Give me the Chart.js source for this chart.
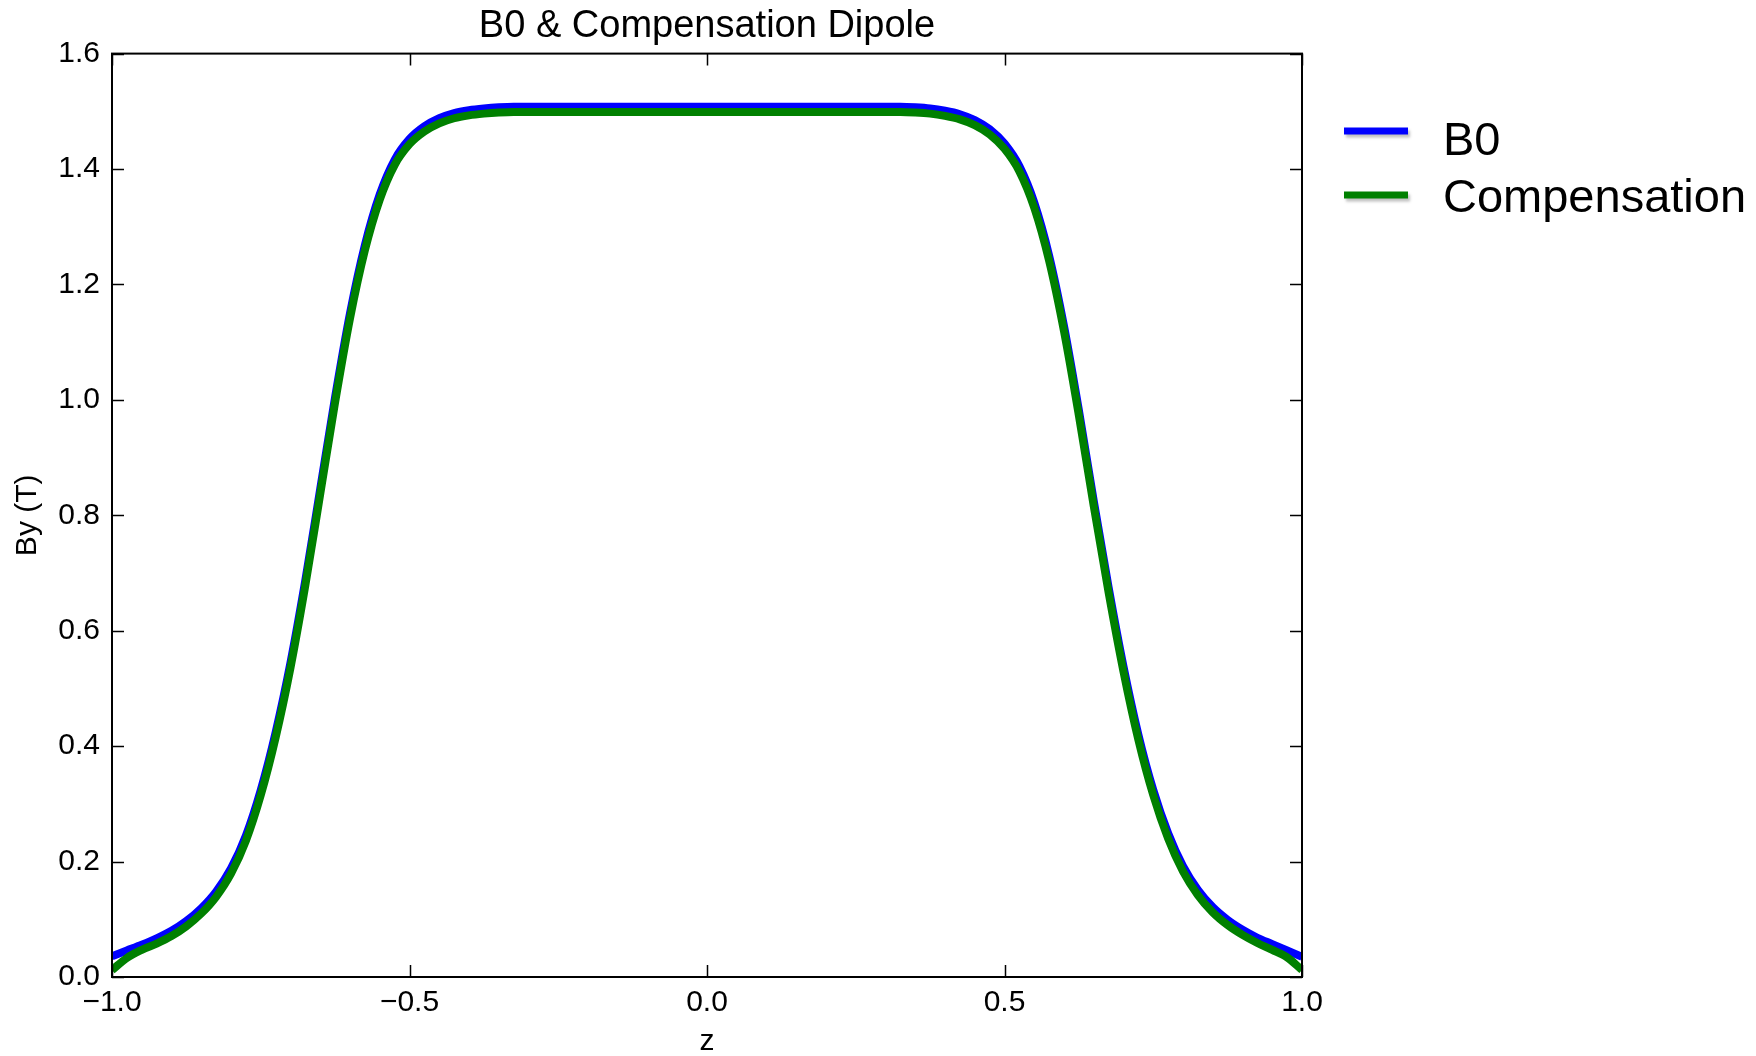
<!DOCTYPE html>
<html>
<head>
<meta charset="utf-8">
<title>B0 &amp; Compensation Dipole</title>
<script src="https://cdn.jsdelivr.net/npm/chart.js@4.4.1/dist/chart.umd.min.js"></script>
<style>
  html, body { margin: 0; padding: 0; background: #fff; }
  #wrap { width: 1756px; height: 1056px; }
</style>
</head>
<body>
<div id="wrap"><canvas id="fieldChart" width="1756" height="1056"></canvas></div>
<script>
// longitudinal position z
const zValues = [
  -1.000, -0.975, -0.950, -0.925, -0.900, -0.875, -0.850, -0.825, -0.800, -0.775,
  -0.750, -0.725, -0.700, -0.675, -0.650, -0.625, -0.600, -0.575, -0.550, -0.525,
  -0.500, -0.475, -0.450, -0.425, -0.400, -0.375, -0.350, -0.325, -0.300, -0.275,
  -0.250, -0.225, -0.200, -0.175, -0.150, -0.125, -0.100, -0.075, -0.050, -0.025,
   0.000,  0.025,  0.050,  0.075,  0.100,  0.125,  0.150,  0.175,  0.200,  0.225,
   0.250,  0.275,  0.300,  0.325,  0.350,  0.375,  0.400,  0.425,  0.450,  0.475,
   0.500,  0.525,  0.550,  0.575,  0.600,  0.625,  0.650,  0.675,  0.700,  0.725,
   0.750,  0.775,  0.800,  0.825,  0.850,  0.875,  0.900,  0.925,  0.950,  0.975,
   1.000
];

// By (T) of the main dipole
const b0Values = [
  0.036, 0.046, 0.056, 0.067, 0.080, 0.097, 0.119, 0.148, 0.188, 0.245,
  0.324, 0.424, 0.545, 0.688, 0.846, 1.005, 1.150, 1.268, 1.356, 1.416,
  1.452, 1.474, 1.488, 1.497, 1.502, 1.505, 1.507, 1.508, 1.508, 1.508,
  1.508, 1.508, 1.508, 1.508, 1.508, 1.508, 1.508, 1.508, 1.508, 1.508,
  1.508, 1.508, 1.508, 1.508, 1.508, 1.508, 1.508, 1.508, 1.508, 1.508,
  1.508, 1.508, 1.508, 1.508, 1.507, 1.505, 1.501, 1.495, 1.485, 1.469,
  1.444, 1.405, 1.342, 1.250, 1.128, 0.982, 0.825, 0.675, 0.538, 0.420,
  0.324, 0.249, 0.192, 0.151, 0.121, 0.099, 0.082, 0.068, 0.057, 0.046,
  0.035
];

// By (T) of the compensation dipole
const compValues = [
  0.012, 0.033, 0.047, 0.058, 0.071, 0.088, 0.110, 0.139, 0.179, 0.236,
  0.315, 0.415, 0.536, 0.679, 0.837, 0.996, 1.141, 1.259, 1.347, 1.407,
  1.443, 1.465, 1.479, 1.488, 1.493, 1.496, 1.498, 1.499, 1.499, 1.499,
  1.499, 1.499, 1.499, 1.499, 1.499, 1.499, 1.499, 1.499, 1.499, 1.499,
  1.499, 1.499, 1.499, 1.499, 1.499, 1.499, 1.499, 1.499, 1.499, 1.499,
  1.499, 1.499, 1.499, 1.499, 1.498, 1.496, 1.492, 1.486, 1.476, 1.460,
  1.435, 1.396, 1.333, 1.241, 1.119, 0.973, 0.816, 0.666, 0.529, 0.411,
  0.315, 0.240, 0.183, 0.142, 0.112, 0.090, 0.073, 0.059, 0.047, 0.034,
  0.012
];

const seriesNames = ['B0', 'Compensation'];
const seriesColors = ['#0000ff', '#008000'];

const xTicks = [-1.0, -0.5, 0.0, 0.5, 1.0];
const yTicks = [0.0, 0.2, 0.4, 0.6, 0.8, 1.0, 1.2, 1.4, 1.6];

const FONT = '"Liberation Sans", Arial, Helvetica, sans-serif';

function toPoints(ys) {
    return zValues.map((z, i) => ({ x: z, y: ys[i] }));
}

function fmt(v) {
    return Number(v).toFixed(1).replace('-', '\u2212');
}

// frame round the plot with inward ticks on all four sides
const framePlugin = {
    id: 'frame',
    afterDatasetsDraw(chart) {
        const { ctx, chartArea: a, scales } = chart;
        const len = 12;
        ctx.save();
        ctx.strokeStyle = '#000';
        ctx.lineWidth = 1.5;
        ctx.beginPath();
        xTicks.forEach(v => {
            const px = Math.round(scales.x.getPixelForValue(v)) + 0.5;
            ctx.moveTo(px, a.bottom); ctx.lineTo(px, a.bottom - len);
            ctx.moveTo(px, a.top); ctx.lineTo(px, a.top + len);
        });
        yTicks.forEach(v => {
            const py = Math.round(scales.y.getPixelForValue(v)) + 0.5;
            ctx.moveTo(a.left, py); ctx.lineTo(a.left + len, py);
            ctx.moveTo(a.right, py); ctx.lineTo(a.right - len, py);
        });
        ctx.stroke();
        ctx.lineWidth = 2;
        ctx.strokeRect(a.left, a.top, a.right - a.left, a.bottom - a.top);
        ctx.restore();
    }
};

// legend outside the axes, on the right
const sideLegend = {
    id: 'sideLegend',
    afterDraw(chart) {
        const { ctx } = chart;
        const rows = [131, 195];
        const baselines = [155, 212];
        ctx.save();
        chart.data.datasets.forEach((ds, i) => {
            ctx.save();
            ctx.shadowColor = 'rgba(0,0,0,0.25)';
            ctx.shadowBlur = 3;
            ctx.shadowOffsetX = 2;
            ctx.shadowOffsetY = 3;
            ctx.strokeStyle = ds.borderColor;
            ctx.lineWidth = 7;
            ctx.beginPath();
            ctx.moveTo(1344, rows[i]);
            ctx.lineTo(1408, rows[i]);
            ctx.stroke();
            ctx.restore();
            ctx.fillStyle = '#000';
            ctx.font = '47px ' + FONT;
            ctx.textBaseline = 'alphabetic';
            ctx.textAlign = 'left';
            ctx.fillText(ds.label, 1443, baselines[i]);
        });
        ctx.restore();
    }
};

new Chart(document.getElementById('fieldChart'), {
    type: 'line',
    data: {
        datasets: [
            {
                label: seriesNames[0],
                data: toPoints(b0Values),
                borderColor: seriesColors[0],
                borderWidth: 8,
                pointRadius: 0,
                cubicInterpolationMode: 'monotone',
                fill: false,
                order: 2
            },
            {
                label: seriesNames[1],
                data: toPoints(compValues),
                borderColor: seriesColors[1],
                borderWidth: 8,
                pointRadius: 0,
                cubicInterpolationMode: 'monotone',
                fill: false,
                order: 1
            }
        ]
    },
    options: {
        responsive: false,
        animation: false,
        devicePixelRatio: 1,
        layout: { padding: { left: 0, right: 454, top: 0, bottom: 0 } },
        plugins: {
            legend: { display: false },
            tooltip: { enabled: false },
            title: {
                display: true,
                fullSize: false,
                text: 'B0 & Compensation Dipole',
                color: '#000',
                font: { family: FONT, size: 38, weight: 'normal', lineHeight: 1.2 },
                padding: { top: 4, bottom: 4 }
            }
        },
        scales: {
            x: {
                type: 'linear',
                min: -1,
                max: 1,
                afterFit(scale) { scale.height = 79; },
                afterBuildTicks(scale) { scale.ticks = xTicks.map(v => ({ value: v })); },
                grid: { display: false, drawTicks: false },
                border: { display: false },
                ticks: {
                    color: '#000',
                    padding: 8,
                    maxRotation: 0,
                    font: { family: FONT, size: 30 },
                    callback: v => fmt(v)
                },
                title: {
                    display: true,
                    text: 'z',
                    color: '#000',
                    font: { family: FONT, size: 30, lineHeight: 1 },
                    padding: { top: 0, bottom: -1 }
                }
            },
            y: {
                type: 'linear',
                min: 0,
                max: 1.6,
                afterFit(scale) { scale.width = 112; },
                afterBuildTicks(scale) { scale.ticks = yTicks.map(v => ({ value: v })); },
                grid: { display: false, drawTicks: false },
                border: { display: false },
                ticks: {
                    color: '#000',
                    padding: 12,
                    font: { family: FONT, size: 30 },
                    callback: v => fmt(v)
                },
                title: {
                    display: true,
                    text: 'By (T)',
                    color: '#000',
                    font: { family: FONT, size: 30, lineHeight: 1.2 },
                    padding: { top: 10, bottom: 0 }
                }
            }
        }
    },
    plugins: [framePlugin, sideLegend]
});
</script>
</body>
</html>
